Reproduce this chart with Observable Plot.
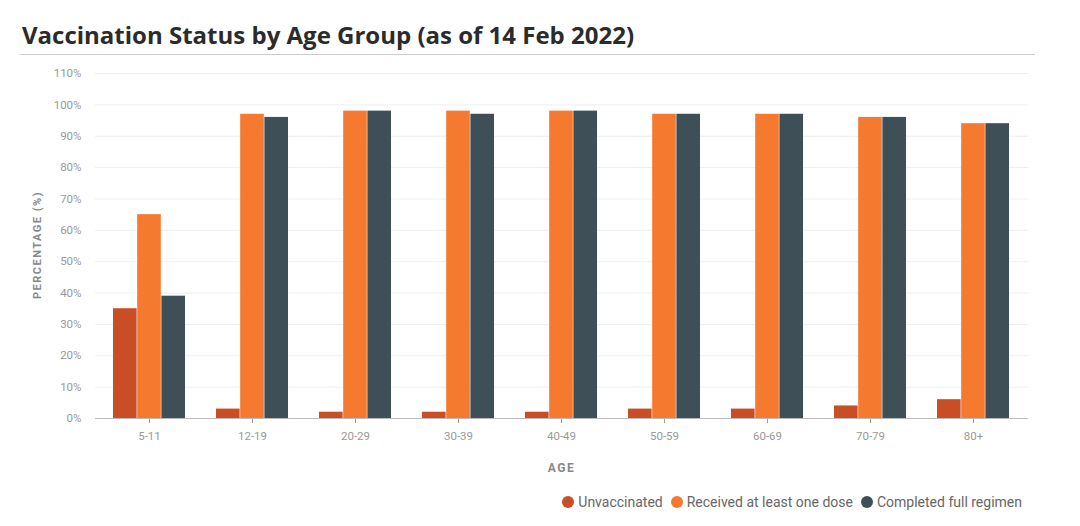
<!DOCTYPE html>
<html><head><meta charset="utf-8">
<script src="https://cdn.jsdelivr.net/npm/d3@7"></script>
<script src="https://cdn.jsdelivr.net/npm/@observablehq/plot@0.6"></script>
<style>
body{margin:0;background:#fff;font-family:"Open Sans",sans-serif;}
#t{position:absolute;left:22px;top:18px;font-size:24px;font-weight:700;color:#2b2b2b;margin:0;}
#rule{position:absolute;left:20px;top:54px;width:1015px;height:1px;background:#ccc;}
#c{position:absolute;left:0;top:60px;}
#leg{position:absolute;top:494px;right:58px;font-family:Roboto,sans-serif;font-size:14px;color:#666;display:flex;gap:8px;}
#leg span{display:flex;align-items:center;}
#leg i{display:inline-block;width:12px;height:12px;border-radius:50%;margin-right:4px;}
</style></head><body>
<h1 id="t">Vaccination Status by Age Group (as of 14 Feb 2022)</h1>
<div id="rule"></div>
<div id="c"></div>
<div id="leg"></div>
<script>
const ages=["5-11","12-19","20-29","30-39","40-49","50-59","60-69","70-79","80+"];
const series=["Unvaccinated","Received at least one dose","Completed full regimen"];
const colors=["#c94e25","#f57a2f","#3e4f58"];
const unvacc=[35,3,2,2,2,3,3,4,6];
const oneDose=[65,97,98,98,98,97,97,96,94];
const full=[39,96,98,97,98,97,97,96,94];
const yTicks=d3.range(0,111,10);
const seriesData=[unvacc,oneDose,full].map((arr,si)=>arr.map((v,i)=>({age:ages[i],s:series[si],v})));
const bw=(933/9)*0.7/3;
const plot2=Plot.plot({
  width:1080,height:425,marginLeft:95,marginRight:52,marginTop:13,marginBottom:67,
  style:{fontFamily:"Roboto,sans-serif",fontSize:"11.5px",color:"#999"},
  x:{domain:ages,paddingInner:0.3,paddingOuter:0.15,label:null,tickSize:5,tickPadding:8},
  y:{domain:[0,110],ticks:yTicks,tickFormat:d=>d+"%",label:null,tickSize:0,tickPadding:14},
  color:{domain:series,range:colors},
  marks:[
    Plot.gridY(yTicks,{stroke:"#eee",strokeOpacity:1}),
    ...seriesData.map((d,i)=>Plot.barY(d,{x:"age",y:"v",fill:"s",insetLeft:bw*i,insetRight:bw*(2-i)})),
    Plot.ruleY([0],{stroke:"#bbb"})
  ]
});
const svg=d3.select(plot2);
svg.append("text").attr("x",95+(1028-95)/2).attr("y",412).attr("text-anchor","middle")
 .attr("fill","#888").attr("font-size",12).attr("font-weight",700).attr("letter-spacing",1.5).text("AGE");
svg.append("text").attr("transform","translate(41,185) rotate(-90)").attr("text-anchor","middle")
 .attr("fill","#888").attr("font-size",11).attr("font-weight",700).attr("letter-spacing",1.5).text("PERCENTAGE (%)");
document.getElementById("c").append(plot2);
const leg=document.getElementById("leg");
series.forEach((s,i)=>{const e=document.createElement("span");e.innerHTML=`<i style="background:${colors[i]}"></i>${s}`;leg.append(e);});
</script></body></html>
